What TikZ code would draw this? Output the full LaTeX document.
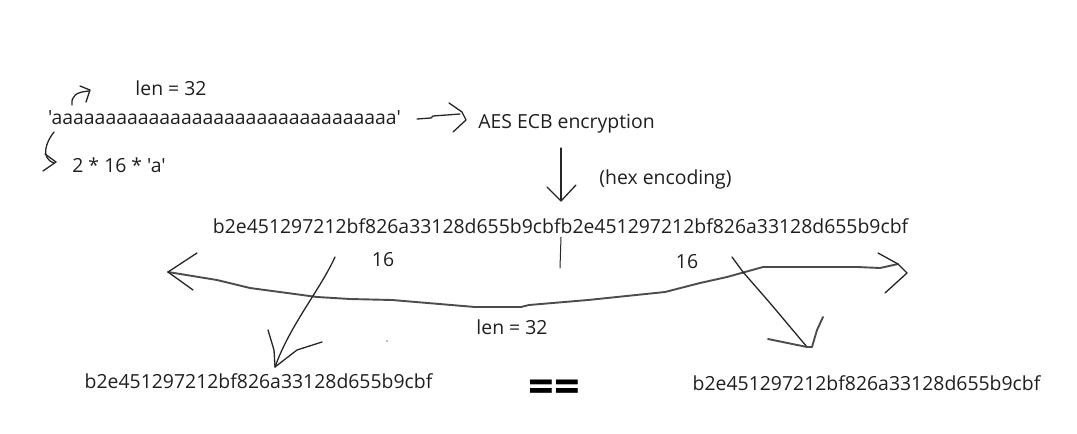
\documentclass[tikz,border=0pt]{standalone}
\usepackage{fontspec}
\setmainfont{Open Sans}[Ligatures=TeXOff]
\begin{document}
\begin{tikzpicture}[x=1pt,y=-1pt,
  txt/.style={inner sep=0pt,anchor=base,font=\fontsize{19.4}{22}\selectfont,text=black!88},
  pen/.style={line width=1.3pt,draw=black!85,line cap=round,line join=round},
  thickpen/.style={line width=1.9pt,draw=black!70,line cap=round,line join=round}]
\useasboundingbox (0,0) rectangle (1077,434);
% texts
\node[txt] (len1) at (171,95) {len = 32};
\node[txt] (str) at (224.5,124) {'aaaaaaaaaaaaaaaaaaaaaaaaaaaaaaaa'};
\node[txt] (aes) at (566.5,128) {AES ECB encryption};
\node[txt] (mul) at (119,172) {2 * 16 * 'a'};
\node[txt] (hexenc) at (665.5,184) {(hex encoding)};
\node[txt] (hex) at (560.5,233) {b2e451297212bf826a33128d655b9cbfb2e451297212bf826a33128d655b9cbf};
\node[txt] (n16a) at (383,266) {16};
\node[txt] (n16b) at (687,268) {16};
\node[txt] (len2) at (512,334) {len = 32};
\node[txt] (hexl) at (258.5,388) {b2e451297212bf826a33128d655b9cbf};
\node[txt] (hexr) at (866.5,390) {b2e451297212bf826a33128d655b9cbf};
\node[inner sep=0pt,anchor=base,font=\fontsize{45}{48}\selectfont\bfseries] (eq) at (554.5,402) {==};
% small arrow above the string
\draw[pen] (72,105) .. controls (71,96) and (76,92) .. (89,91);
\draw[pen] (80,86) -- (90,90) -- (86,102);
% curved arrow to 2*16*'a'
\draw[pen] (54,132) .. controls (46,142) and (40,158) .. (54,163);
\draw[pen] (45,154) -- (56,162) -- (43,171);
% arrow to AES
\draw[pen] (417,119) -- (431,118) -- (433,116) -- (460,114);
\draw[pen] (449,103) -- (462,112) -- (466,120) -- (453,132);
% down arrow
\draw[pen] (561,148) -- (561,200);
\draw[pen] (547,187) -- (561,201) -- (576,185);
% vertical tick
\draw[pen,line width=1pt] (561,237) -- (560,268);
% brace curve with two arrowheads
\draw[thickpen] (168,272) -- (217,280) -- (250,288) -- (317,297) -- (350,299) -- (392,300)
  -- (475,307) -- (521,307) -- (529,305) -- (588,300) -- (665,292) -- (700,283) -- (727,277)
  -- (763,267) -- (857,267) -- (880,268) -- (898,264);
\draw[pen] (197,253) -- (168,272) -- (193,290);
\draw[pen] (878,253) -- (898,264) -- (907,273) -- (885,293);
% left diagonal arrow
\draw[pen] (335,257) .. controls (320,290) and (290,325) .. (275,367);
\draw[pen] (268,330) -- (274,350) -- (275,367) -- (297,350) -- (322,342);
% right diagonal arrow
\draw[pen] (732,257) -- (743,272) -- (770,303) -- (807,347);
\draw[thickpen] (768,339) -- (807,347) -- (812,347) -- (817,330) -- (823,317);
% dot
\fill[black!40] (387,341) circle (1pt);
\end{tikzpicture}
\end{document}
